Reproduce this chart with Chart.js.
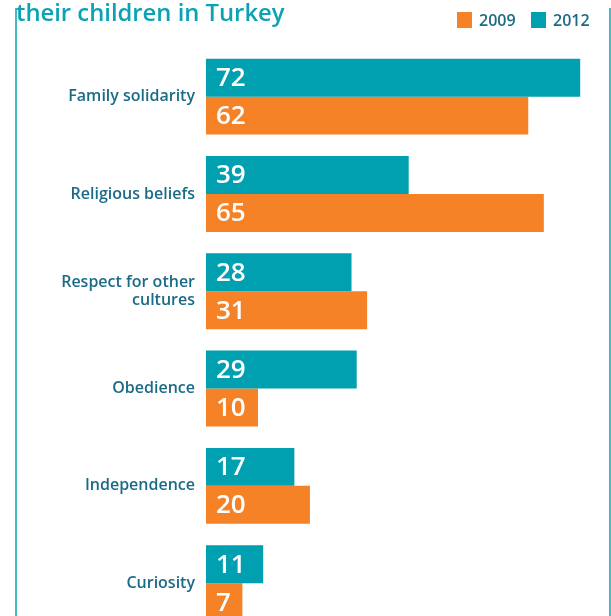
<!DOCTYPE html>
<html><head><meta charset="utf-8">
<script src="https://cdn.jsdelivr.net/npm/chart.js@4"></script>
<style>
html,body{margin:0;padding:0;background:#fff;overflow:hidden}
#wrap{position:relative;width:611px;height:616px;overflow:hidden;background:#fff}
#c{position:absolute;left:0;top:0}
#title{position:absolute;left:16px;top:-4px;font:600 23.8px "Open Sans";color:#0ba3b4;white-space:nowrap}
.vl{position:absolute;top:8px;bottom:0;width:2px;background:#45b9c6}
#legend{position:absolute;top:9px;left:457px;height:22px;font:600 16px "Open Sans";color:#1b6b86;white-space:nowrap}
.li{position:absolute;top:0;height:22px;line-height:22px}
.sw{position:absolute;top:3px;left:0;width:15px;height:16px}
</style></head>
<body>
<div id="wrap">
<canvas id="c" width="611" height="652"></canvas>
<div class="vl" style="left:15px"></div>
<div class="vl" style="left:609px"></div>
<div id="title">their children in Turkey</div>
<div id="legend"></div>
</div>
<script>
const categories = ["Family solidarity", "Religious beliefs", ["Respect for other", "cultures"], "Obedience", "Independence", "Curiosity"];
const values2012 = [72, 39, 28, 29, 17, 11];
const values2009 = [62, 65, 31, 10, 20, 7];
const seriesNames = ["2009", "2012"];
const colorTeal = "#00a0b0";
const colorOrange = "#f58227";

// legend (2009 first, then 2012)
const legend = document.getElementById('legend');
const legItems = [{name: seriesNames[0], color: colorOrange, x: 0}, {name: seriesNames[1], color: colorTeal, x: 74}];
legItems.forEach(it => {
  const d = document.createElement('div');
  d.className = 'li';
  d.style.left = it.x + 'px';
  d.innerHTML = '<span class="sw" style="background:' + it.color + '"></span><span style="margin-left:22px">' + it.name + '</span>';
  legend.appendChild(d);
});

const barLabels = {
  id: 'barLabels',
  afterDatasetsDraw(chart) {
    const ctx = chart.ctx;
    ctx.save();
    ctx.fillStyle = '#ffffff';
    ctx.font = '600 26px "Open Sans"';
    ctx.textAlign = 'left';
    ctx.textBaseline = 'middle';
    chart.data.datasets.forEach((ds, di) => {
      const meta = chart.getDatasetMeta(di);
      meta.data.forEach((el, i) => {
        ctx.fillText(String(ds.data[i]), el.base + 10, el.y + 1);
      });
    });
    ctx.restore();
  }
};

new Chart(document.getElementById('c'), {
  type: 'bar',
  data: {
    labels: categories,
    datasets: [
      {label: seriesNames[1], data: values2012, backgroundColor: colorTeal, borderWidth: 0},
      {label: seriesNames[0], data: values2009, backgroundColor: colorOrange, borderWidth: 0}
    ]
  },
  options: {
    indexAxis: 'y',
    responsive: false,
    animation: false,
    devicePixelRatio: 1,
    layout: {padding: {top: 48, bottom: 0, left: 0, right: 10}},
    datasets: {bar: {categoryPercentage: 0.78, barPercentage: 1}},
    plugins: {legend: {display: false}, tooltip: {enabled: false}, title: {display: false}},
    scales: {
      x: {display: false, min: 0, max: 76},
      y: {
        grid: {display: false, drawTicks: false},
        border: {display: false},
        ticks: {
          padding: 11,
          color: '#1b6b86',
          font: {family: 'Open Sans', size: 16, weight: '600', lineHeight: 1.15}
        },
        afterFit(scale) { scale.width = 206; }
      }
    }
  },
  plugins: [barLabels]
});
</script>
</body></html>
